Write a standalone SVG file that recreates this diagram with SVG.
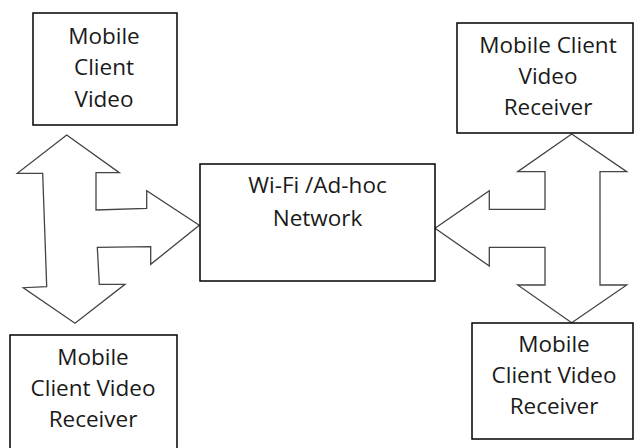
<svg xmlns="http://www.w3.org/2000/svg" width="635" height="448" viewBox="0 0 635 448">
<style>
.box{fill:#fff;stroke:#000;stroke-width:1.5}
.arr{fill:#fff;stroke:#444;stroke-width:1.3;stroke-linejoin:miter}
text{font-family:"Open Sans","Liberation Sans",sans-serif;font-size:22.5px;fill:#1a1a1a;text-anchor:middle}
</style>
<rect width="635" height="448" fill="#fff"/>
<g id="connectors">
<polygon class="arr" points="66.7,135 119.3,172.7 96,172.7 96,210 146.7,208.3 146.7,190.7 199.3,225.3 150.7,264.3 150.7,246.7 97.3,247.3 99.3,284.3 125,284.3 75,323.3 23.3,287.7 46.7,286.7 42.7,173.3 17.3,173.3"/>
<polygon class="arr" points="571.7,134 626.7,171.7 600,171.7 600,285 626.7,285 571.7,322.7 517.7,285 545,285 545,247.3 489.3,247.3 489.3,266 435,228.3 489.3,190.7 489.3,209.3 545,209.3 545,171.7 517.7,171.7"/>
</g>
<g id="node-tl">
<rect class="box" x="33" y="13" width="144" height="112"/>
<text x="104" y="44">Mobile</text>
<text x="104" y="75">Client</text>
<text x="104" y="107">Video</text>
</g>
<g id="node-tr">
<rect class="box" x="457" y="23" width="176" height="110"/>
<text x="548" y="53">Mobile Client</text>
<text x="548" y="84">Video</text>
<text x="548" y="115">Receiver</text>
</g>
<g id="node-center">
<rect class="box" x="200" y="164" width="235" height="117"/>
<text x="317.5" y="193">Wi-Fi /Ad-hoc</text>
<text x="317.5" y="226">Network</text>
</g>
<g id="node-bl">
<rect class="box" x="10" y="335" width="167" height="120"/>
<text x="93" y="365">Mobile</text>
<text x="93" y="396">Client Video</text>
<text x="93" y="427">Receiver</text>
</g>
<g id="node-br">
<rect class="box" x="472" y="323" width="161" height="116"/>
<text x="554" y="352">Mobile</text>
<text x="554" y="383">Client Video</text>
<text x="554" y="414">Receiver</text>
</g>
</svg>
